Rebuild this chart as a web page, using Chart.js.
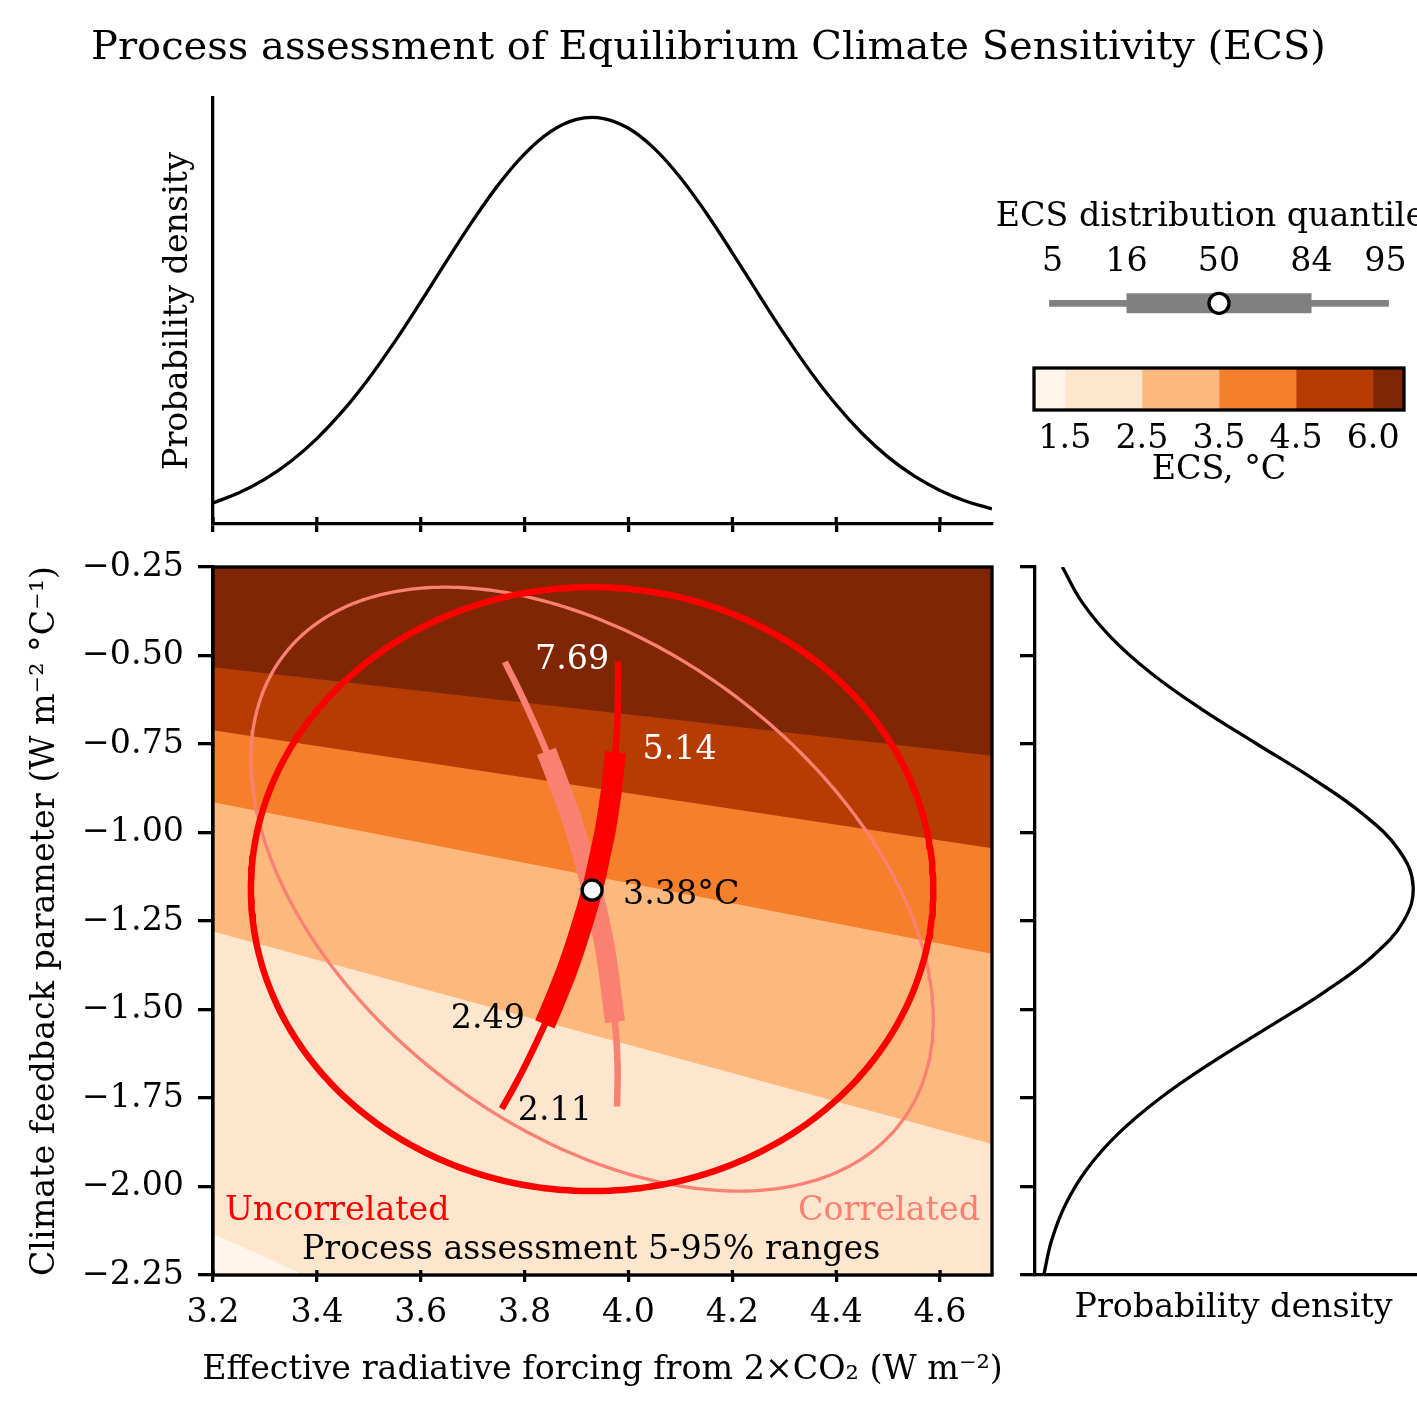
<!DOCTYPE html>
<html>
<head>
<meta charset="utf-8">
<script src="https://cdn.jsdelivr.net/npm/chart.js@4.4.1/dist/chart.umd.min.js"></script>
<style>
html, body { margin:0; padding:0; background:#fff; overflow:hidden; width:1417px; height:1417px; }
canvas { position:absolute; }
</style>
</head>
<body>
<canvas id="cTop" width="1417" height="545" style="left:0;top:0;width:1417px;height:545px"></canvas>
<canvas id="cMain" width="1010" height="884" style="left:0;top:533px;width:1010px;height:884px"></canvas>
<canvas id="cRight" width="432" height="872" style="left:1000px;top:545px;width:432px;height:872px"></canvas>
<canvas id="cQuant" width="457" height="150" style="left:980px;top:180px;width:457px;height:150px"></canvas>
<canvas id="cBar" width="457" height="160" style="left:980px;top:340px;width:457px;height:160px"></canvas>
<script>
// ---------------- data ----------------
const ecsLevels = [1.5, 2.5, 3.5, 4.5, 6.0];
const bandColors = ['#fff5eb', '#fee6ce', '#fdb97d', '#f67f2c', '#b53c03', '#7f2704'];

const erfLimits = [3.2, 4.7];
const lambdaLimits = [-2.25, -0.25];
const erfTicks = [3.2, 3.4, 3.6, 3.8, 4.0, 4.2, 4.4, 4.6];
const erfTickLabels = ['3.2', '3.4', '3.6', '3.8', '4.0', '4.2', '4.4', '4.6'];
const lambdaTicks = [-2.25, -2.0, -1.75, -1.5, -1.25, -1.0, -0.75, -0.5, -0.25];
const lambdaTickLabels = ['\u22122.25', '\u22122.00', '\u22121.75', '\u22121.50', '\u22121.25', '\u22121.00', '\u22120.75', '\u22120.50', '\u22120.25'];

// marginal PDF of effective radiative forcing
const erfGrid = [3.20,3.25,3.30,3.35,3.40,3.45,3.50,3.55,3.60,3.65,3.70,3.75,3.80,3.85,3.90,3.95,4.00,4.05,4.10,4.15,4.20,4.25,4.30,4.35,4.40,4.45,4.50,4.55,4.60,4.65,4.70];
const erfDensity = [0.0689,0.1019,0.1466,0.2052,0.2793,0.3697,0.4760,0.5962,0.7262,0.8602,0.9912,1.1107,1.2106,1.2833,1.3232,1.3268,1.2941,1.2276,1.1326,1.0163,0.8870,0.7529,0.6216,0.4991,0.3898,0.2960,0.2187,0.1571,0.1098,0.0746,0.0493];

// marginal PDF of climate feedback parameter
const lambdaGrid = [-2.25,-2.15,-2.05,-1.95,-1.85,-1.75,-1.65,-1.55,-1.45,-1.35,-1.25,-1.15,-1.05,-0.95,-0.85,-0.75,-0.65,-0.55,-0.45,-0.35,-0.25];
const lambdaDensity = [0.0232,0.0448,0.0814,0.1388,0.2219,0.3331,0.4692,0.6203,0.7696,0.8962,0.9794,1.0046,0.9671,0.8737,0.7408,0.5896,0.4403,0.3087,0.2031,0.1254,0.0726];

// 5-95% joint ranges (ellipses)
const ellipseCenter = [3.93, -1.16];
const ellipseHalfAxes = [0.657, 0.853];
const ellipseRho = [0, -0.43];   // uncorrelated, correlated

// most-likely ECS curves
const uncorrECS    = [2.11, 2.2, 2.3, 2.49, 2.6, 2.8, 3.0, 3.38, 3.8, 4.0, 4.5, 5.14, 6.0, 7.0, 7.69];
const uncorrERF    = [3.756,3.780,3.803,3.839,3.856,3.882,3.902,3.930,3.949,3.956,3.967,3.975,3.979,3.980,3.980];
const uncorrLambda = [-1.780,-1.718,-1.653,-1.542,-1.483,-1.387,-1.301,-1.163,-1.039,-0.989,-0.882,-0.773,-0.663,-0.569,-0.518];
const uncorrQuantiles = [2.11, 2.49, 3.38, 5.14, 7.69];

const corrECS    = [2.24, 2.4, 2.59, 2.9, 3.1, 3.38, 4.0, 4.5, 4.98, 5.8, 6.5, 7.27];
const corrERF    = [3.978,3.979,3.974,3.959,3.948,3.930,3.893,3.865,3.842,3.808,3.784,3.762];
const corrLambda = [-1.774,-1.658,-1.535,-1.365,-1.274,-1.163,-0.973,-0.859,-0.771,-0.657,-0.582,-0.518];
const corrQuantiles = [2.24, 2.59, 3.38, 4.98, 7.27];

const medianPoint = [3.93, -1.163];

const quantileLevels = ['5', '16', '50', '84', '95'];
const quantilePos = [0.05, 0.25, 0.5, 0.75, 0.95];

// ---------------- style ----------------
const FONT = 'DejaVu Serif';
const FS = 33.3;
const LW = 3.3;
const RED = '#ff0000';
const SALMON = '#fa8072';
Chart.defaults.font.family = FONT;
Chart.defaults.color = '#000';
const tickFont = { family: FONT, size: FS };

// ---------------- plugins ----------------
function annotPlugin(items) {
  return {
    id: 'annot',
    afterDraw(chart) {
      const ctx = chart.ctx, a = chart.chartArea;
      items.forEach(it => {
        let x = it.dataX !== undefined ? chart.scales.x.getPixelForValue(it.dataX)
              : (it.fx !== undefined ? a.left + it.fx * (a.right - a.left) : it.x);
        let y = it.dataY !== undefined ? chart.scales.y.getPixelForValue(it.dataY)
              : (it.fy !== undefined ? a.top + it.fy * (a.bottom - a.top) : it.y);
        x += it.dx || 0; y += it.dy || 0;
        ctx.save();
        ctx.font = (it.size || FS) + 'px "' + FONT + '"';
        ctx.fillStyle = it.color || '#000';
        ctx.textAlign = it.align || 'center';
        ctx.textBaseline = 'middle';
        ctx.translate(x, y);
        if (it.rot) ctx.rotate(it.rot);
        ctx.fillText(it.text, 0, 0);
        ctx.restore();
      });
    }
  };
}
function innerTicksPlugin(len) {
  return {
    id: 'innerTicks',
    afterDraw(chart) {
      const s = chart.scales.x, a = chart.chartArea, ctx = chart.ctx;
      ctx.save(); ctx.strokeStyle = '#000'; ctx.lineWidth = LW;
      s.ticks.forEach(t => {
        const px = s.getPixelForValue(t.value);
        ctx.beginPath(); ctx.moveTo(px, a.bottom); ctx.lineTo(px, a.bottom - len); ctx.stroke();
      });
      ctx.restore();
    }
  };
}
function framePlugin(width) {
  return {
    id: 'frame',
    afterDraw(chart) {
      const a = chart.chartArea, ctx = chart.ctx;
      ctx.save(); ctx.strokeStyle = '#000'; ctx.lineWidth = width;
      ctx.strokeRect(a.left, a.top, a.right - a.left, a.bottom - a.top);
      ctx.restore();
    }
  };
}

const baseOpts = { responsive: false, animation: false, events: [], devicePixelRatio: 1 };
const noPlug = { legend: { display: false }, tooltip: { enabled: false } };
const tickGrid = (len) => ({ display: true, drawOnChartArea: false, drawTicks: true, tickLength: len, tickWidth: LW, lineWidth: LW, tickColor: '#000', color: '#000' });
const noGrid = { display: false, drawTicks: false, tickLength: 0 };
const blackBorder = { display: true, color: '#000', width: LW };

// ---------------- top panel: ERF pdf ----------------
new Chart(document.getElementById('cTop'), {
  type: 'line',
  data: { datasets: [{
    data: erfGrid.map((x, i) => ({ x: x, y: erfDensity[i] })),
    borderColor: '#000', borderWidth: LW, pointRadius: 0, tension: 0.4, fill: false
  }]},
  options: Object.assign({}, baseOpts, {
    layout: { padding: { top: 98, right: 425, left: 0, bottom: 0 } },
    plugins: noPlug,
    scales: {
      x: { type: 'linear', min: erfLimits[0], max: erfLimits[1], bounds: 'data',
           afterFit: s => { s.height = 21; },
           afterBuildTicks: s => { s.ticks = erfTicks.map(v => ({ value: v })); },
           ticks: { display: false }, grid: tickGrid(8), border: blackBorder },
      y: { type: 'linear', min: 0, max: Math.max(...erfDensity) * 1.05, bounds: 'data',
           afterFit: s => { s.width = 213; },
           ticks: { display: false }, grid: noGrid, border: blackBorder }
    }
  }),
  plugins: [innerTicksPlugin(7), annotPlugin([
    { text: 'Process assessment of Equilibrium Climate Sensitivity (ECS)', x: 708.5, y: 49, size: 40 },
    { text: 'Probability density', x: 178, fy: 0.5, rot: -Math.PI / 2 }
  ])]
});

// ---------------- main panel ----------------
function bandLine(ecs, fill, color) {
  return { data: erfLimits.map(F => ({ x: F, y: -F / ecs })), fill: fill, backgroundColor: color,
           borderWidth: 0, borderColor: 'rgba(0,0,0,0)', pointRadius: 0, tension: 0 };
}
function ellipsePoints(rho) {
  const pts = [], n = 360, s = Math.sqrt(1 - rho * rho);
  for (let i = 0; i <= n; i++) {
    const t = 2 * Math.PI * i / n;
    pts.push({ x: ellipseCenter[0] + ellipseHalfAxes[0] * Math.cos(t),
               y: ellipseCenter[1] + ellipseHalfAxes[1] * (rho * Math.cos(t) + s * Math.sin(t)) });
  }
  return pts;
}
const arcPoints = (F, L) => F.map((f, i) => ({ x: f, y: L[i] }));
const likelyPart = (F, L, E, q) => arcPoints(F, L).filter((p, i) => E[i] >= q[1] - 1e-9 && E[i] <= q[3] + 1e-9);
const lineDs = (data, color, width, extra) => Object.assign({ data: data, borderColor: color, borderWidth: width,
  pointRadius: 0, fill: false, tension: 0.4, borderCapStyle: 'butt', borderJoinStyle: 'round' }, extra || {});

const mainDatasets = [];
mainDatasets.push(bandLine(ecsLevels[0], 'start', bandColors[0]));
ecsLevels.forEach((c, k) => mainDatasets.push(bandLine(c, 'end', bandColors[k + 1])));
mainDatasets.push(lineDs(ellipsePoints(ellipseRho[1]), SALMON, LW, { tension: 0 }));
mainDatasets.push(lineDs(ellipsePoints(ellipseRho[0]), RED, 6.5, { tension: 0 }));
mainDatasets.push(lineDs(arcPoints(corrERF, corrLambda), SALMON, 6.5));
mainDatasets.push(lineDs(likelyPart(corrERF, corrLambda, corrECS, corrQuantiles), SALMON, 20));
mainDatasets.push(lineDs(arcPoints(uncorrERF, uncorrLambda), RED, 6.5));
mainDatasets.push(lineDs(likelyPart(uncorrERF, uncorrLambda, uncorrECS, uncorrQuantiles), RED, 21));
mainDatasets.push({ data: [{ x: medianPoint[0], y: medianPoint[1] }], showLine: false, pointRadius: 10,
  pointBackgroundColor: '#fff', pointBorderColor: '#000', pointBorderWidth: LW });
mainDatasets.forEach((d, i) => { d.order = mainDatasets.length - i; });

const qPt = q => { const i = uncorrECS.indexOf(q); return [uncorrERF[i], uncorrLambda[i]]; };
const qLabelStyle = [
  { dx: 16, dy: 3, align: 'left', color: '#000' },
  { dx: -20, dy: -5, align: 'right', color: '#000' },
  { dx: 31, dy: 5, align: 'left', color: '#000' },
  { dx: 27, dy: -2, align: 'left', color: '#fff' },
  { dx: -9, dy: -2, align: 'right', color: '#fff' }
];
const qLabels = uncorrQuantiles.map((q, i) => {
  const p = i === 2 ? medianPoint : qPt(q);
  return Object.assign({ text: q.toFixed(2) + (i === 2 ? '\u00b0C' : ''), dataX: p[0], dataY: p[1] }, qLabelStyle[i]);
});

new Chart(document.getElementById('cMain'), {
  type: 'line',
  data: { datasets: mainDatasets },
  options: Object.assign({}, baseOpts, {
    layout: { padding: { top: 34, right: 18, left: 0, bottom: 0 } },
    plugins: noPlug,
    scales: {
      x: { type: 'linear', min: erfLimits[0], max: erfLimits[1], bounds: 'data', z: 1,
           afterFit: s => { s.height = 142; },
           afterBuildTicks: s => { s.ticks = erfTicks.map(v => ({ value: v })); },
           ticks: { callback: (v, i) => erfTickLabels[i], font: tickFont, color: '#000', padding: 11, maxRotation: 0, autoSkip: false },
           grid: tickGrid(7), border: blackBorder },
      y: { type: 'linear', min: lambdaLimits[0], max: lambdaLimits[1], bounds: 'data', z: 1,
           afterFit: s => { s.width = 213; },
           afterBuildTicks: s => { s.ticks = lambdaTicks.map(v => ({ value: v })); },
           ticks: { callback: (v, i) => lambdaTickLabels[i], font: tickFont, color: '#000', padding: 14, autoSkip: false },
           grid: tickGrid(15), border: blackBorder }
    }
  }),
  plugins: [innerTicksPlugin(5), framePlugin(LW), annotPlugin([
    { text: 'Climate feedback parameter (W m\u207b\u00b2 \u00b0C\u207b\u00b9)', x: 45, fy: 0.5, rot: -Math.PI / 2 },
    { text: 'Effective radiative forcing from 2\u00d7CO\u2082 (W m\u207b\u00b2)', fx: 0.5, y: 837 },
    { text: 'Uncorrelated', fx: 0, fy: 1, dx: 12, dy: -63.5, align: 'left', color: RED },
    { text: 'Correlated', fx: 1, fy: 1, dx: -12, dy: -63.5, align: 'right', color: SALMON },
    { text: 'Process assessment 5-95% ranges', dataX: ellipseCenter[0], fy: 1, dx: -1, dy: -24.5 }
  ].concat(qLabels))]
});

// ---------------- right panel: lambda pdf ----------------
new Chart(document.getElementById('cRight'), {
  type: 'line',
  data: { datasets: [{
    data: lambdaGrid.map((y, i) => ({ x: lambdaDensity[i], y: y })),
    borderColor: '#000', borderWidth: LW, pointRadius: 0, tension: 0.4, fill: false
  }]},
  options: Object.assign({}, baseOpts, {
    layout: { padding: { top: 22, right: 0, left: 0, bottom: 0 } },
    plugins: noPlug,
    scales: {
      x: { type: 'linear', min: 0, max: Math.max(...lambdaDensity) * 1.05, bounds: 'data',
           afterFit: s => { s.height = 142; },
           ticks: { display: false }, grid: noGrid, border: blackBorder },
      y: { type: 'linear', min: lambdaLimits[0], max: lambdaLimits[1], bounds: 'data',
           afterFit: s => { s.width = 35; },
           afterBuildTicks: s => { s.ticks = lambdaTicks.map(v => ({ value: v })); },
           ticks: { display: false }, grid: tickGrid(15), border: blackBorder }
    }
  }),
  plugins: [annotPlugin([{ text: 'Probability density', fx: 0.5, y: 763 }])]
});

// ---------------- quantile key ----------------
new Chart(document.getElementById('cQuant'), {
  type: 'line',
  data: { datasets: [
    { data: [{ x: quantilePos[2], y: 0.5 }], showLine: false, pointRadius: 10,
      pointBackgroundColor: '#fff', pointBorderColor: '#000', pointBorderWidth: LW },
    { data: [{ x: quantilePos[1], y: 0.5 }, { x: quantilePos[3], y: 0.5 }], borderColor: '#808080', borderWidth: 20,
      borderCapStyle: 'butt', pointRadius: 0 },
    { data: [{ x: quantilePos[0], y: 0.5 }, { x: quantilePos[4], y: 0.5 }], borderColor: '#808080', borderWidth: 6.7,
      borderCapStyle: 'square', pointRadius: 0 }
  ]},
  options: Object.assign({}, baseOpts, {
    layout: { padding: { top: 0, right: 33, left: 54, bottom: 12 } },
    plugins: noPlug,
    scales: {
      x: { type: 'linear', position: 'top', min: 0, max: 1, bounds: 'data',
           afterFit: s => { s.height = 110; },
           afterBuildTicks: s => { s.ticks = quantilePos.map(v => ({ value: v })); },
           ticks: { callback: (v, i) => quantileLevels[i], font: tickFont, color: '#000', padding: 8, maxRotation: 0, autoSkip: false },
           grid: noGrid, border: { display: false } },
      y: { type: 'linear', min: 0, max: 1, display: false }
    }
  }),
  plugins: [annotPlugin([{ text: 'ECS distribution quantiles', fx: 0.5, y: 37.5 }])]
});

// ---------------- colour bar ----------------
const cbEnd = 0.4;
const cbSegments = bandColors.map((c, i) => [i === 0 ? -cbEnd : i - 1, i === bandColors.length - 1 ? i - 1 + cbEnd : i]);
new Chart(document.getElementById('cBar'), {
  type: 'bar',
  data: { labels: ['ECS'], datasets: cbSegments.map((seg, i) => ({
    data: [seg], backgroundColor: bandColors[i], borderWidth: 0, grouped: false,
    barPercentage: 1, categoryPercentage: 1 })) },
  options: Object.assign({}, baseOpts, {
    indexAxis: 'y',
    layout: { padding: { top: 28, right: 33, left: 54, bottom: 0 } },
    plugins: noPlug,
    scales: {
      x: { type: 'linear', min: -cbEnd, max: ecsLevels.length - 1 + cbEnd, bounds: 'data',
           afterFit: s => { s.height = 90; },
           afterBuildTicks: s => { s.ticks = ecsLevels.map((v, i) => ({ value: i })); },
           ticks: { callback: (v, i) => ecsLevels[i].toFixed(1), font: tickFont, color: '#000', padding: 9, maxRotation: 0, autoSkip: false },
           grid: noGrid, border: { display: false } },
      y: { display: false }
    }
  }),
  plugins: [framePlugin(LW), annotPlugin([{ text: 'ECS, \u00b0C', fx: 0.5, fy: 1, dy: 60 }])]
});
</script>
</body>
</html>
